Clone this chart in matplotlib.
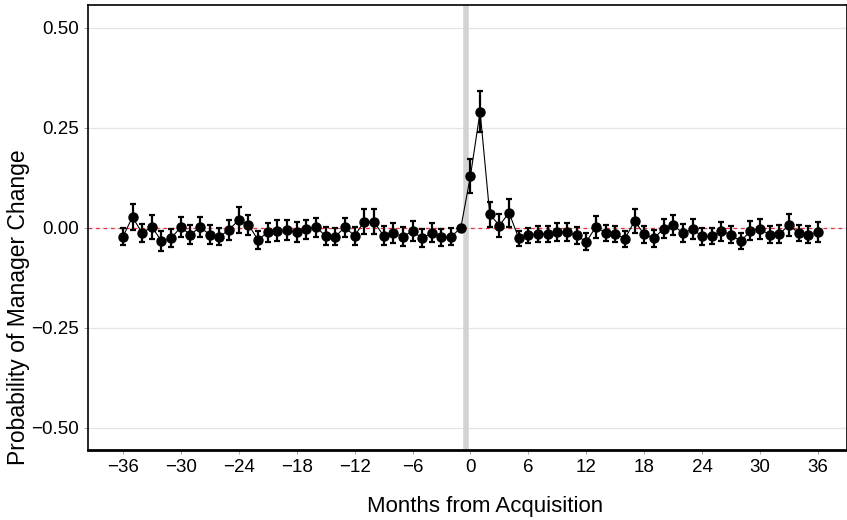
import numpy as np
import matplotlib
matplotlib.use('Agg')
import matplotlib.pyplot as plt

plt.rcParams['font.family'] = ['Liberation Sans', 'DejaVu Sans']

# months relative to acquisition (-1 is the reference month)
months = list(range(-36, 37))

coef = [-0.022, 0.027, -0.013, 0.003, -0.033, -0.026, 0.002, -0.017, 0.002, -0.017,
        -0.022, -0.005, 0.020, 0.008, -0.030, -0.011, -0.007, -0.005, -0.011, -0.003,
        0.002, -0.020, -0.022, 0.002, -0.020, 0.016, 0.016, -0.020, -0.012, -0.022,
        -0.008, -0.026, -0.012, -0.024, -0.022, 0.000,
        0.130, 0.291, 0.034, 0.006, 0.038, -0.026, -0.019, -0.015, -0.015, -0.011,
        -0.011, -0.019, -0.035, 0.003, -0.013, -0.015, -0.027, 0.017, -0.016, -0.026,
        -0.002, 0.007, -0.013, -0.003, -0.021, -0.020, -0.009, -0.017, -0.034, -0.007,
        -0.003, -0.017, -0.015, 0.007, -0.013, -0.017, -0.011]

err = [0.022, 0.032, 0.023, 0.030, 0.024, 0.022, 0.025, 0.024, 0.026, 0.024,
       0.022, 0.025, 0.032, 0.025, 0.022, 0.024, 0.026, 0.026, 0.025, 0.024,
       0.024, 0.022, 0.022, 0.024, 0.022, 0.032, 0.032, 0.024, 0.025, 0.024,
       0.025, 0.022, 0.024, 0.022, 0.022, 0.0,
       0.043, 0.051, 0.032, 0.029, 0.035, 0.019, 0.020, 0.021, 0.021, 0.023,
       0.023, 0.021, 0.021, 0.028, 0.021, 0.021, 0.020, 0.030, 0.022, 0.021,
       0.024, 0.025, 0.023, 0.025, 0.021, 0.021, 0.024, 0.021, 0.020, 0.024,
       0.026, 0.022, 0.022, 0.028, 0.021, 0.021, 0.025]

xticks = list(range(-36, 37, 6))
yticks = [-0.5, -0.25, 0.0, 0.25, 0.5]

fig = plt.figure(figsize=(8.47, 5.2), dpi=100)
ax = fig.add_axes([0.104, 0.135, 0.896, 0.855])

ax.axvline(-0.5, color='#d3d3d3', lw=4, zorder=1)
ax.axhline(0, color='#e8303a', lw=0.9, ls=(0, (3, 3)), zorder=2)

ax.plot(months, coef, color='black', lw=0.8, zorder=3)
ax.errorbar(months, coef, yerr=err, fmt='o', color='black', ms=6.5,
            ecolor='black', elinewidth=1.6, capsize=2.3, capthick=1.6, zorder=4)

ax.set_xlim(-39.6, 39.0)
ax.set_ylim(-0.555, 0.557)
ax.set_xticks(xticks)
ax.set_xticklabels([str(t).replace('-', '\u2212') for t in xticks])
ax.set_yticks(yticks)
ax.set_yticklabels(['\u22120.50', '\u22120.25', '0.00', '0.25', '0.50'])
ax.yaxis.grid(True, color='#e5e5e5', lw=0.9)
ax.set_axisbelow(True)
ax.tick_params(axis='both', labelsize=13.5, length=3, width=0.6, color='#999999')
for s in ax.spines.values():
    s.set_linewidth(1.2)
ax.spines['bottom'].set_linewidth(2.0)

ax.set_xlabel('Months from Acquisition', fontsize=16)
ax.set_ylabel('Probability of Manager Change', fontsize=16.5)
ax.xaxis.set_label_coords(0.523, -0.104)
ax.yaxis.set_label_coords(-0.077, 0.321)

fig.savefig('out.png', dpi=100)
